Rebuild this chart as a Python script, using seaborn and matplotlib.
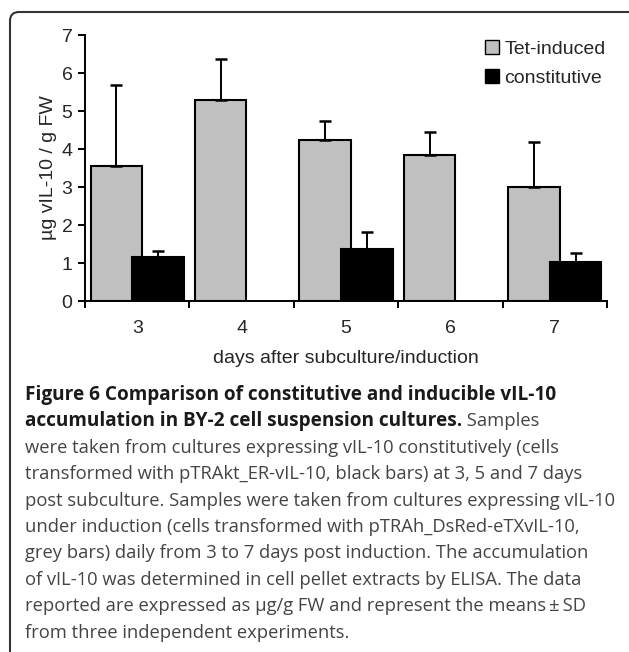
import numpy as np
import pandas as pd
import matplotlib
matplotlib.use("Agg")
import matplotlib.pyplot as plt
import seaborn as sns
from matplotlib.patches import FancyBboxPatch
from matplotlib.transforms import IdentityTransform

# ---- data ----
days = ["3", "4", "5", "6", "7"]
tet_induced = [3.56, 5.30, 4.25, 3.85, 3.00]
tet_sd = [2.12, 1.06, 0.50, 0.59, 1.18]
constitutive = [1.16, np.nan, 1.37, np.nan, 1.02]
const_sd = [0.15, np.nan, 0.45, np.nan, 0.24]
series_names = ["Tet-induced", "constitutive"]
y_ticks = [0, 1, 2, 3, 4, 5, 6, 7]

caption_lines = [
    [("Figure 6 Comparison of constitutive and inducible vIL-10", "bold")],
    [("accumulation in BY-2 cell suspension cultures.", "bold"), (" Samples", "normal")],
    [("were taken from cultures expressing vIL-10 constitutively (cells", "normal")],
    [("transformed with pTRAkt_ER-vIL-10, black bars) at 3, 5 and 7 days", "normal")],
    [("post subculture. Samples were taken from cultures expressing vIL-10", "normal")],
    [("under induction (cells transformed with pTRAh_DsRed-eTXvIL-10,", "normal")],
    [("grey bars) daily from 3 to 7 days post induction. The accumulation", "normal")],
    [("of vIL-10 was determined in cell pellet extracts by ELISA. The data", "normal")],
    [("reported are expressed as \u00b5g/g FW and represent the means\u2009\u00b1\u2009SD", "normal")],
    [("from three independent experiments.", "normal")],
]

df = pd.DataFrame({
    "day": days * 2,
    "value": tet_induced + constitutive,
    "sd": tet_sd + const_sd,
    "series": [series_names[0]] * 5 + [series_names[1]] * 5,
})

sns.set_theme(style="white")
plt.rcParams["font.family"] = ["Liberation Sans", "DejaVu Sans"]

W, H = 629, 652
fig = plt.figure(figsize=(W / 100, H / 100), dpi=100)
fig.patch.set_facecolor("white")

ax_l, ax_r, ax_t, ax_b = 85, 607, 35, 301
ax = fig.add_axes([ax_l / W, 1 - ax_b / H, (ax_r - ax_l) / W, (ax_b - ax_t) / H])
ax.set_facecolor("white")

sns.barplot(data=df, x="day", y="value", hue="series", order=days,
            hue_order=series_names, palette=["#c0c0c0", "#000000"],
            dodge=True, width=0.8, gap=-0.23, edgecolor="black", linewidth=1.5,
            errorbar=None, ax=ax, legend=True, saturation=1)

# error bars (upper only), matched to bars by category position
sd_lookup = {series_names[0]: tet_sd, series_names[1]: const_sd}
for cont, name in zip(ax.containers, series_names):
    sds = sd_lookup[name]
    for bar in cont:
        h = bar.get_height()
        if np.isnan(h):
            continue
        xc = bar.get_x() + bar.get_width() / 2
        idx = int(round(xc))
        sd = sds[idx]
        if np.isnan(sd):
            continue
        ax.errorbar([xc], [h], yerr=[[0], [sd]], fmt="none", ecolor="black",
                    elinewidth=1.4, capsize=4, capthick=1.8, zorder=1)

ax.set_ylim(0, 7)
ax.set_xlim(-0.5, 4.5)
ax.set_yticks(y_ticks)
ax.set_yticklabels([str(t) for t in y_ticks], fontsize=14)
ax.set_xticks(np.arange(-0.5, 5.0, 1.0))
ax.set_xticklabels([""] * 6)
ax.set_xticks(np.arange(5), minor=True)
ax.set_xticklabels(days, minor=True, fontsize=14)
ax.tick_params(axis="x", which="major", direction="out", length=5, width=1.4, color="black", bottom=True)
ax.tick_params(axis="x", which="minor", length=0, pad=14, bottom=True)
ax.tick_params(axis="y", direction="out", length=5, width=1.4, color="black", pad=4, left=True)

for s in ["top", "right"]:
    ax.spines[s].set_visible(False)
for s in ["left", "bottom"]:
    ax.spines[s].set_color("black")
    ax.spines[s].set_linewidth(1.4)

ax.set_ylabel("\u00b5g vIL-10 / g FW", fontsize=14, labelpad=3)
ax.set_xlabel("days after subculture/induction", fontsize=14, labelpad=9)

leg = ax.legend(loc="upper left", bbox_to_anchor=(485 / W, 1 - 40 / H),
                bbox_transform=fig.transFigure, frameon=False, fontsize=14,
                handlelength=0.7, handleheight=0.7, handletextpad=0.3,
                labelspacing=0.6, borderpad=0, borderaxespad=0)
for hnd in leg.legend_handles:
    hnd.set_edgecolor("black")
    hnd.set_linewidth(1.0)

# frame (rounded box)
frame = FancyBboxPatch((10, -40), 700, H - 12 + 40, boxstyle="round,pad=0,rounding_size=9",
                       transform=IdentityTransform(), facecolor="none",
                       edgecolor="#333333", linewidth=1.5, zorder=0)
fig.patches.append(frame)

# caption
fig.canvas.draw()
renderer = fig.canvas.get_renderer()
x0 = 25
y_first = 395
spacing = 26.4
for i, segs in enumerate(caption_lines):
    x = x0
    y = y_first + i * spacing
    for text, weight in segs:
        color = "#1a1a1a" if weight == "bold" else "#444444"
        size = 13.7 if weight == "bold" else 13.2
        t = fig.text(x / W, 1 - y / H, text, fontsize=size, fontweight=weight,
                     family=["Open Sans", "DejaVu Sans"], color=color,
                     ha="left", va="center")
        bb = t.get_window_extent(renderer=renderer)
        x += bb.width

fig.savefig("out.png", dpi=100, facecolor="white")
